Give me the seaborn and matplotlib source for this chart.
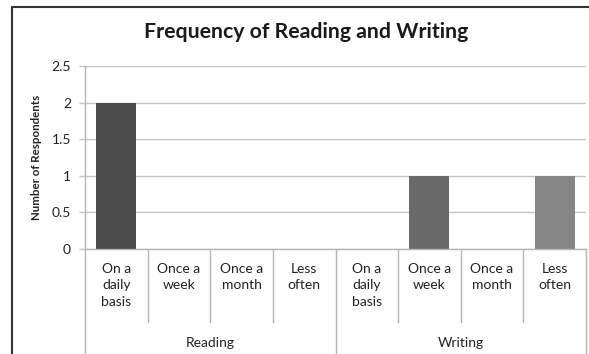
import matplotlib
matplotlib.use("Agg")
import matplotlib.pyplot as plt
from matplotlib.lines import Line2D
import seaborn as sns
import pandas as pd

# Survey counts by activity and frequency
groups = ["Reading", "Writing"]
frequencies = ["On a\ndaily\nbasis", "Once a\nweek", "Once a\nmonth", "Less\noften"]
reading_counts = [2, 0, 0, 0]
writing_counts = [0, 1, 0, 1]
y_ticks = [0, 0.5, 1, 1.5, 2, 2.5]
bar_colors = ["#4b4b4b", "#4b4b4b", "#4b4b4b", "#4b4b4b",
              "#6a6a6a", "#6a6a6a", "#858585", "#858585"]

rows = []
for g, counts in zip(groups, [reading_counts, writing_counts]):
    for f, c in zip(frequencies, counts):
        rows.append({"slot": f"{g}|{f}", "group": g, "freq": f, "count": c})
df = pd.DataFrame(rows)
order = list(df["slot"])
palette = dict(zip(order, bar_colors))

sns.set_theme(style="white")
plt.rcParams["font.family"] = ["Lato", "DejaVu Sans"]

W, H = 589, 354
fig = plt.figure(figsize=(W / 100, H / 100), dpi=100)
ax = fig.add_axes([85 / W, (H - 249) / H, (586 - 85) / W, (249 - 66) / H])

sns.barplot(data=df, x="slot", y="count", hue="slot", order=order,
            palette=palette, width=0.64, legend=False, ax=ax,
            edgecolor="none", saturation=1)

ax.set_ylim(0, 2.5)
ax.set_xlim(-0.5, len(order) - 0.5)
ax.set_yticks(y_ticks)
ax.set_yticklabels([f"{t:g}" for t in y_ticks], fontsize=10, color="#222222")
ax.yaxis.grid(True, color="#c4c4c4", linewidth=1.0)
ax.set_axisbelow(True)
ax.tick_params(axis="y", which="major", length=4, width=1.0, color="#c4c4c4",
               pad=6, left=True)
ax.set_xticks([])
ax.set_xlabel("")
ax.set_ylabel("")
for side in ["top", "right"]:
    ax.spines[side].set_visible(False)
for side in ["left", "bottom"]:
    ax.spines[side].set_color("#b5b5b5")
    ax.spines[side].set_linewidth(1.0)

fig.text(37 / W, 1 - 157 / H, "Number of Respondents", rotation=90,
         ha="center", va="center", fontsize=8.3, fontweight="bold",
         color="#222222")

# Two-level category axis: frequency labels and group labels with dividers
trans = ax.get_xaxis_transform()
for i, row in df.iterrows():
    ax.text(i, -0.075, row["freq"], transform=trans, ha="center", va="top",
            fontsize=10, color="#222222", linespacing=1.45)
for k in range(len(order) + 1):
    x = k - 0.5
    is_group_edge = k % 4 == 0
    y_end = -0.65 if is_group_edge else -0.40
    ax.add_line(Line2D([x, x], [0, y_end], transform=trans, color="#b5b5b5",
                       linewidth=1.0, clip_on=False))
for j, g in enumerate(groups):
    ax.text(j * 4 + 1.5, -0.515, g, transform=trans, ha="center", va="center",
            fontsize=10, color="#222222")

fig.text(306 / W, 1 - 32 / H, "Frequency of Reading and Writing",
         ha="center", va="center", fontsize=15.3, fontweight="bold",
         color="#1a1a1a")

# Chart frame (top and left edges)
fig.add_artist(Line2D([11.5 / W, 11.5 / W], [0, 1 - 6.5 / H],
                      transform=fig.transFigure, color="#333333", linewidth=1.5))
fig.add_artist(Line2D([11.5 / W, 1], [1 - 6.5 / H, 1 - 6.5 / H],
                      transform=fig.transFigure, color="#333333", linewidth=1.5))

fig.savefig("out.png", dpi=100, facecolor="white")
